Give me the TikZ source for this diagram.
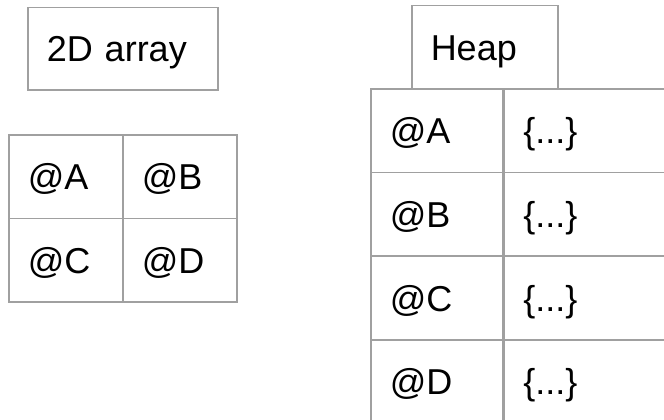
\documentclass[tikz,border=0pt]{standalone}
\usepackage{fontspec}
\setmainfont{Liberation Sans}
\definecolor{linegray}{RGB}{160,160,160}
\tikzset{
  cell/.style={draw=linegray, line width=1.5pt, inner xsep=19pt, inner ysep=0pt,
    text height=32pt, text depth=6pt,
    anchor=north west, align=left, font=\fontsize{36}{40}\selectfont},
}
\begin{document}
\begin{tikzpicture}[x=1pt,y=-1pt]
        \useasboundingbox (0,0) rectangle (664,420);
        \clip (0,0) rectangle (664,420);
        %% Titles
        \node[cell, text width=152pt, minimum height=82pt] (arrtitle) at (27,7) {2D array};
        \node[cell, text width=108pt, minimum height=83pt] (heaptitle) at (411,5) {Heap};
        %% 2D array
        \foreach \n/\x/\y in {A/8/134, B/122/134, C/8/217.5, D/122/217.5}
            \node[cell, text width=76pt, minimum height=83.5pt] (grid\n) at (\x,\y) {@\n};
        %% Heap
        \foreach \n [count=\i from 0] in {A,B,C,D} {
            \node[cell, text width=94pt, minimum height=83.7pt] (addr\n) at (370,88+83.7*\i) {@\n};
            \node[cell, text width=162pt, minimum height=83.7pt] (obj\n) at (addr\n.north east) {\{...\}};
        }
    \end{tikzpicture}
\end{document}
